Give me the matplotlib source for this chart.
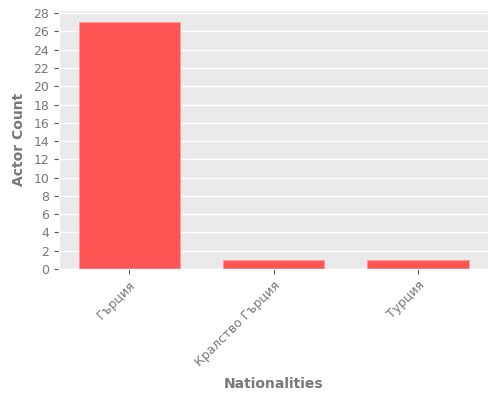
import matplotlib
matplotlib.use('Agg')
import matplotlib.pyplot as plt

plt.style.use('ggplot')
plt.rcParams['font.family'] = ['DejaVu Sans']

nationalities = ['Гърция', 'Кралство Гърция', 'Турция']
actor_counts = [27, 1, 1]

fig, ax = plt.subplots(figsize=(5, 4), dpi=100)
fig.subplots_adjust(left=0.118, right=0.976, bottom=0.3275, top=0.975)
ax.set_facecolor('#EAEAEA')

ax.bar(nationalities, actor_counts, width=0.7, color='#FF5555',
       edgecolor='#FF9A9A', linewidth=0.6)
ax.set_yticks(range(0, 29, 2))
ax.grid(False)
ax.grid(axis='y', color='white', linewidth=1)
ax.set_axisbelow(True)
ax.tick_params(axis='both', colors='#555555', labelcolor='#777777', labelsize=9)
plt.setp(ax.get_xticklabels(), rotation=45, ha='right', rotation_mode='anchor')
ax.set_xlabel('Nationalities', fontsize=10, fontweight='bold', color='#777777', labelpad=6)
ax.set_ylabel('Actor Count', fontsize=10, fontweight='bold', color='#777777', labelpad=5)

fig.savefig('out.png')
